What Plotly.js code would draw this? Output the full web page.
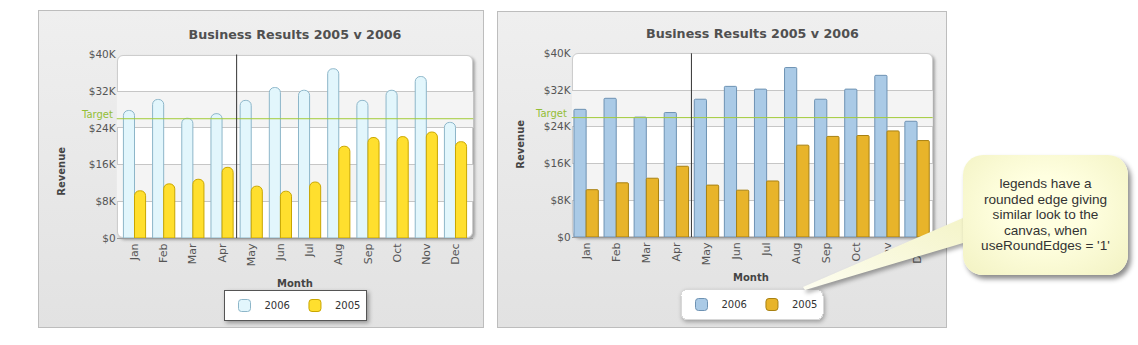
<!DOCTYPE html>
<html>
<head>
<meta charset="utf-8">
<script src="https://cdn.plot.ly/plotly-3.0.1.min.js"></script>
<style>
  html, body { margin:0; padding:0; background:#ffffff; }
  #page { position:relative; width:1138px; height:345px; overflow:hidden; background:#fff; }
  .panel { position:absolute; box-sizing:border-box; border:1px solid #bdbdbd;
           background:linear-gradient(#efefef, #e2e2e2); z-index:0; }
  .pbox { position:absolute; box-sizing:border-box; border:1px solid #cdcdcd; border-radius:6px;
          background:#ffffff; box-shadow:2px 2px 3px rgba(0,0,0,0.30); z-index:1; }
  #chart { position:absolute; left:0; top:0; width:1138px; height:345px; z-index:2; }
  #wedge { position:absolute; left:0; top:0; width:1138px; height:345px; z-index:3; pointer-events:none; }
  #callout { position:absolute; left:963px; top:155px; width:165px; height:120px; box-sizing:border-box;
             border-radius:20px; z-index:4;
             background:radial-gradient(ellipse at 50% 45%, #ffffe0 35%, #f2f2c2 100%);
             box-shadow:3px 4px 5px rgba(0,0,0,0.45);
             display:flex; align-items:center; justify-content:center; text-align:center;
             font-family:"Liberation Sans", Arial, sans-serif; font-size:13.6px; line-height:15.4px; color:#333;
             white-space:nowrap; }
</style>
</head>
<body>
<div id="page">
  <div class="panel" style="left:38px; top:10px; width:446px; height:318px;"></div>
  <div class="panel" style="left:497px; top:11px; width:450px; height:317px;"></div>
  <div class="pbox" style="left:116.7px; top:54.5px; width:356.6px; height:183.5px;"></div>
  <div class="pbox" style="left:571.7px; top:53.3px; width:361px; height:183.7px;"></div>
  <div id="chart"></div>
  <svg id="wedge" width="1138" height="345">
    <defs>
      <linearGradient id="wg" x1="0" y1="1" x2="1" y2="0">
        <stop offset="0" stop-color="#fdfdf0"/>
        <stop offset="1" stop-color="#f3f3c4"/>
      </linearGradient>
    </defs>
    <polygon points="803,287 985,208.5 985,236.5 805,290" fill="url(#wg)"
             style="filter:drop-shadow(2px 3px 2px rgba(0,0,0,0.35));"/>
  </svg>
  <div id="callout"><div>legends have a<br>rounded edge giving<br>similar look to the<br>canvas, when<br>useRoundEdges = '1'</div></div>
</div>
<script>
// ---- data ----
var months = ['Jan','Feb','Mar','Apr','May','Jun','Jul','Aug','Sep','Oct','Nov','Dec'];
var rev2006 = [27800, 30200, 26100, 27100, 30000, 32800, 32200, 36900, 30000, 32200, 35200, 25200];
var rev2005 = [10300, 11800, 12800, 15400, 11300, 10200, 12200, 20000, 21900, 22100, 23100, 21000];
var targetValue = 26000;
var yTickVals = [0, 8000, 16000, 24000, 32000, 40000];
var yTickText = ['$0', '$8K', '$16K', '$24K', '$32K', '$40K'];
var chartTitle = 'Business Results 2005 v 2006';
var seriesNames = ['2006', '2005'];

var W = 1138, H = 345;
function px(x) { return x / W; }
function py(y) { return 1 - y / H; }

var FONT = 'DejaVu Sans, Verdana, sans-serif';

var traces = [
  { type:'bar', x:months, y:rev2006, name:seriesNames[0], xaxis:'x', yaxis:'y', legend:'legend',
    width:0.38, offset:-0.38,
    marker:{ color:'#e2f6fc', line:{ color:'#8db6c9', width:1 }, cornerradius:5 } },
  { type:'bar', x:months, y:rev2005, name:seriesNames[1], xaxis:'x', yaxis:'y', legend:'legend',
    width:0.38, offset:0,
    marker:{ color:'#ffdf2e', line:{ color:'#c9a600', width:1 }, cornerradius:5 } },
  { type:'bar', x:months, y:rev2006, name:seriesNames[0], xaxis:'x2', yaxis:'y2', legend:'legend2',
    width:0.405, offset:-0.405,
    marker:{ color:'#aacae6', line:{ color:'#6e92b3', width:1 }, cornerradius:1 } },
  { type:'bar', x:months, y:rev2005, name:seriesNames[1], xaxis:'x2', yaxis:'y2', legend:'legend2',
    width:0.405, offset:0,
    marker:{ color:'#e8b42a', line:{ color:'#a88112', width:1 }, cornerradius:1 } }
];

function xAxis(domain, range, anchor) {
  return { domain:domain, range:range, anchor:anchor, type:'category',
           tickangle:-90, tickfont:{ family:FONT, size:11, color:'#555' },
           showgrid:false, zeroline:false, ticks:'', showline:true, linecolor:'#9a9a9a', linewidth:1,
           fixedrange:true };
}
function yAxis(domain, anchor) {
  return { domain:domain, range:[0, 40000], anchor:anchor,
           tickvals:yTickVals, ticktext:yTickText, tickfont:{ family:FONT, size:10.5, color:'#555' },
           showgrid:true, gridcolor:'#c6c6c6', gridwidth:1, zeroline:false, showline:false, ticks:'',
           fixedrange:true };
}

var shapes = [];
function chartShapes(xr, yr) {
  var xd = xr + ' domain';
  shapes.push({ type:'rect', xref:xd, yref:yr, x0:0, x1:1, y0:yTickVals[1], y1:yTickVals[2],
                fillcolor:'#f4f4f4', line:{ width:0 }, layer:'below' });
  shapes.push({ type:'rect', xref:xd, yref:yr, x0:0, x1:1, y0:yTickVals[3], y1:yTickVals[4],
                fillcolor:'#f4f4f4', line:{ width:0 }, layer:'below' });
  shapes.push({ type:'line', xref:xd, yref:yr, x0:0, x1:1, y0:targetValue, y1:targetValue,
                line:{ color:'#a3cc3a', width:1 }, layer:'above' });
  shapes.push({ type:'line', xref:xr, yref:yr + ' domain', x0:3.5, x1:3.5, y0:0, y1:1,
                line:{ color:'#333333', width:1 }, layer:'above' });
}
chartShapes('x', 'y');
chartShapes('x2', 'y2');

var annotations = [
  // right chart title
  { text:chartTitle, xref:'paper', yref:'paper', x:px(752), y:py(33.3), xanchor:'center', yanchor:'middle',
    showarrow:false, font:{ family:FONT, size:12.7, color:'#505050', weight:'bold' } },
  // target labels
  { text:'Target', xref:'paper', yref:'y', x:px(113.5), y:targetValue, xanchor:'right', yanchor:'middle',
    yshift:4, borderpad:0, showarrow:false, font:{ family:FONT, size:10, color:'#93be35' } },
  { text:'Target', xref:'paper', yref:'y2', x:px(567.5), y:targetValue, xanchor:'right', yanchor:'middle',
    yshift:4, borderpad:0, showarrow:false, font:{ family:FONT, size:10, color:'#93be35' } },
  // axis titles
  { text:'<b>Revenue</b>', xref:'paper', yref:'paper', x:px(60.7), y:py(171), textangle:-90,
    xanchor:'center', yanchor:'middle', showarrow:false, font:{ family:FONT, size:10, color:'#444' } },
  { text:'<b>Revenue</b>', xref:'paper', yref:'paper', x:px(521), y:py(144.7), textangle:-90,
    xanchor:'center', yanchor:'middle', showarrow:false, font:{ family:FONT, size:10, color:'#444' } },
  { text:'<b>Month</b>', xref:'paper', yref:'paper', x:px(294.5), y:py(283), xanchor:'center', yanchor:'middle',
    showarrow:false, font:{ family:FONT, size:10, color:'#444' } },
  { text:'<b>Month</b>', xref:'paper', yref:'paper', x:px(751), y:py(277.7), xanchor:'center', yanchor:'middle',
    showarrow:false, font:{ family:FONT, size:10, color:'#444' } }
];

var layout = {
  width:W, height:H, autosize:false,
  margin:{ l:0, r:0, t:0, b:0, pad:0 },
  paper_bgcolor:'rgba(0,0,0,0)', plot_bgcolor:'rgba(0,0,0,0)',
  font:{ family:FONT, size:11, color:'#555' },
  title:{ text:chartTitle, xref:'paper', yref:'paper', x:px(295), y:py(35), xanchor:'center', yanchor:'middle',
          font:{ family:FONT, size:12.7, color:'#505050', weight:'bold' } },
  barmode:'group',
  xaxis: xAxis([px(116.7), px(473.3)], [-0.61, 11.61], 'y'),
  yaxis: yAxis([py(238), py(54.5)], 'x'),
  xaxis2: xAxis([px(571.7), px(932.7)], [-0.48, 11.52], 'y2'),
  yaxis2: yAxis([py(237), py(53.3)], 'x2'),
  showlegend:true,
  legend:{ orientation:'h', x:px(295), y:py(305.5), xanchor:'center', yanchor:'middle',
           bgcolor:'#ffffff', bordercolor:'#555555', borderwidth:1,
           font:{ family:FONT, size:10, color:'#333' }, itemclick:false, itemdoubleclick:false },
  legend2:{ orientation:'h', x:px(752), y:py(304.5), xanchor:'center', yanchor:'middle',
            bgcolor:'#ffffff', bordercolor:'#d8d8d8', borderwidth:1,
            font:{ family:FONT, size:10, color:'#333' }, itemclick:false, itemdoubleclick:false },
  shapes:shapes,
  annotations:annotations
};

Plotly.newPlot('chart', traces, layout, { displayModeBar:false, staticPlot:true }).then(function(gd) {
  var bg1 = gd.querySelector('g.legend rect.bg');
  if (bg1) { bg1.style.filter = 'drop-shadow(2px 2px 2px rgba(0,0,0,0.35))'; }
  var bg2 = gd.querySelector('g.legend2 rect.bg');
  if (bg2) {
    bg2.setAttribute('rx', 6); bg2.setAttribute('ry', 6);
    bg2.style.filter = 'drop-shadow(1px 2px 2px rgba(0,0,0,0.30))';
  }
});
</script>
</body>
</html>
